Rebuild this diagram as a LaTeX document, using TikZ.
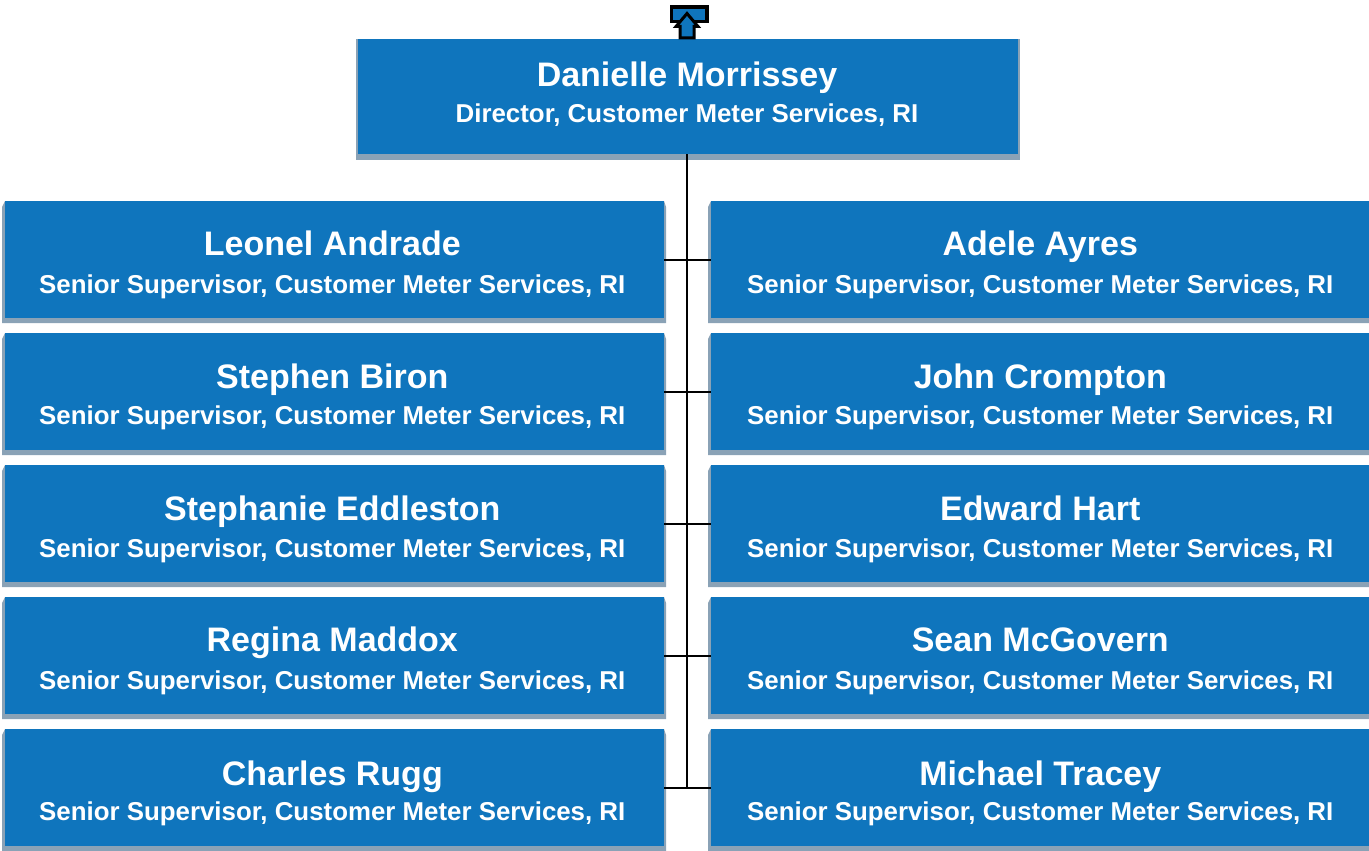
\documentclass[tikz,border=0pt]{standalone}
\usepackage{fontspec}
\setmainfont{Liberation Sans}
\definecolor{boxblue}{HTML}{0F75BD}
\definecolor{shade}{HTML}{8AA2B6}
\tikzset{x=1pt,y=-1pt,
 personbox/.style={fill=boxblue,draw=none,inner sep=0pt,minimum width=#1,minimum height=117pt,anchor=north west},
 personbox/.default=659pt,
 nametext/.style={text=white,font=\fontsize{34}{38}\selectfont\bfseries,anchor=base,inner sep=0pt},
 roletext/.style={text=white,font=\fontsize{25.85}{30}\selectfont\bfseries,anchor=base,inner sep=0pt},
 link/.style={draw=black,line width=2pt},
 trunk/.style={draw=black,line width=2.6pt},
 shadowfill/.style={fill=shade,draw=none}}
% id, left, top, name-baseline, role-baseline, name, role, text centre
\newcommand{\person}[8]{%
 \path[shadowfill] (#2-3,#3+6) -- (#2,#3) -- (#2+659,#3) -- (#2+661,#3+6) -- (#2+661,#3+122) -- (#2-3,#3+122) -- cycle;
 \node[personbox] (#1) at (#2,#3) {};
 \node[nametext] (#1n) at (#8,#4) {#6};
 \node[roletext] (#1r) at (#8,#5) {#7};
}
\begin{document}
\begin{tikzpicture}
\useasboundingbox (0,0) rectangle (1369,851);
% top person
\path[shadowfill] (356,39) rectangle (1020,160);
\node[fill=boxblue,inner sep=0pt,minimum width=660pt,minimum height=115pt,anchor=north west] (dir) at (358,39) {};
\node[nametext] (dirn) at (687,86) {Danielle Morrissey};
\node[roletext] (dirr) at (687,122) {Director, Customer Meter Services, RI};
\def\sr{Senior Supervisor, Customer Meter Services, RI}
\person{a}{5}{201}{255}{293}{Leonel Andrade}{\sr}{332.3}
\person{b}{711}{201}{255}{293}{Adele Ayres}{\sr}{1040.3}
\person{c}{5}{333}{388}{424}{Stephen Biron}{\sr}{332.3}
\person{d}{711}{333}{388}{424}{John Crompton}{\sr}{1040.3}
\person{e}{5}{465}{520}{557}{Stephanie Eddleston}{\sr}{332.3}
\person{f}{711}{465}{520}{557}{Edward Hart}{\sr}{1040.3}
\person{g}{5}{597}{651}{689}{Regina Maddox}{\sr}{332.3}
\person{h}{711}{597}{651}{689}{Sean McGovern}{\sr}{1040.3}
\person{i}{5}{729}{785}{820}{Charles Rugg}{\sr}{332.3}
\person{j}{711}{729}{785}{820}{Michael Tracey}{\sr}{1040.3}
% connectors
\coordinate (end) at (687,788.5);
\draw[trunk] (dir.south -| end) -- (end);
\foreach \l/\r/\y in {a/b/259.5,c/d/391.5,e/f/523.5,g/h/655.5,i/j/787.5}{
 \draw[link] (\l.north east |- 0,\y) -- (\r.north west |- 0,\y);
}
% up marker
\node[draw=black,line width=3.4pt,fill=boxblue,inner sep=0pt,minimum width=35.5pt,minimum height=14.5pt,anchor=north west] (mark) at (669.7,5.4) {};
\path[fill=boxblue,draw=black,line width=3pt,line join=miter] (687,13.5) -- (698,26.5) -- (694,26.5) -- (694,38) -- (680,38) -- (680,26.5) -- (676,26.5) -- cycle;
\end{tikzpicture}
\end{document}
